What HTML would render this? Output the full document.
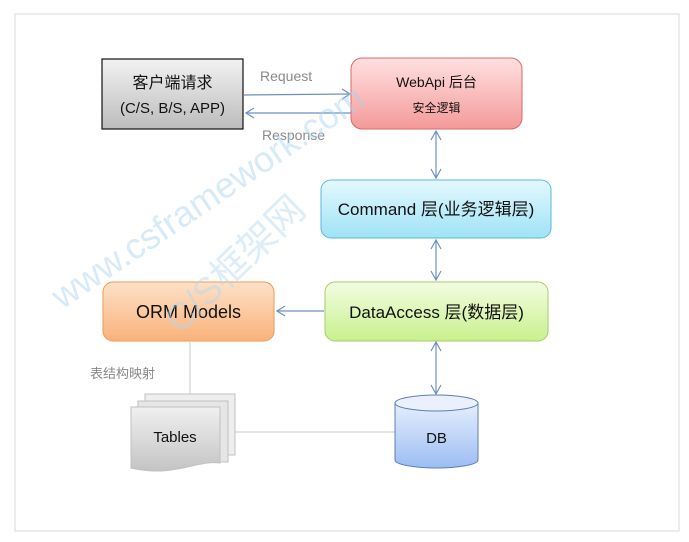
<!DOCTYPE html>
<html><head><meta charset="utf-8"><style>
html,body{margin:0;padding:0;background:#fff;}
svg{display:block;}
text{font-family:"Liberation Sans","Noto Sans CJK SC",sans-serif;}
</style></head><body>
<svg width="689" height="542" viewBox="0 0 689 542" xmlns="http://www.w3.org/2000/svg">
<defs>
<linearGradient id="gGray" x1="0" y1="0" x2="0" y2="1"><stop offset="0" stop-color="#f2f2f2"/><stop offset="1" stop-color="#bcbcbc"/></linearGradient>
<linearGradient id="gRed" x1="0" y1="0" x2="0" y2="1"><stop offset="0" stop-color="#ffe0e0"/><stop offset="1" stop-color="#f49a9a"/></linearGradient>
<linearGradient id="gCyan" x1="0" y1="0" x2="0" y2="1"><stop offset="0" stop-color="#e4f8fd"/><stop offset="1" stop-color="#9ee3f7"/></linearGradient>
<linearGradient id="gGreen" x1="0" y1="0" x2="0" y2="1"><stop offset="0" stop-color="#f3fde2"/><stop offset="1" stop-color="#c9f08d"/></linearGradient>
<linearGradient id="gOrange" x1="0" y1="0" x2="0" y2="1"><stop offset="0" stop-color="#fde1c8"/><stop offset="1" stop-color="#fab27a"/></linearGradient>
<linearGradient id="gBlue" x1="0" y1="0" x2="0" y2="1"><stop offset="0" stop-color="#e6eefc"/><stop offset="1" stop-color="#9cbdf3"/></linearGradient>
<linearGradient id="gTab" x1="0" y1="0" x2="0" y2="1"><stop offset="0" stop-color="#f0f0f0"/><stop offset="1" stop-color="#c4c4c4"/></linearGradient>
</defs>
<rect x="15" y="14" width="664" height="517" fill="#fff" stroke="#d9d9d9" stroke-width="1"/>

<g stroke="#6f8fc4" stroke-width="1.2" fill="none">
<line x1="244" y1="95" x2="350" y2="94"/><polyline points="342,89 350,94 342,99"/>
<line x1="352" y1="113" x2="246" y2="113"/><polyline points="254,108 246,113 254,118"/>
<line x1="436" y1="131" x2="436" y2="178"/>
<polyline points="431,140 436,131 441,140"/><polyline points="431,169 436,178 441,169"/>
<line x1="436" y1="240" x2="436" y2="280"/>
<polyline points="431,249 436,240 441,249"/><polyline points="431,271 436,280 441,271"/>
<line x1="436" y1="342" x2="436" y2="394"/>
<polyline points="431,351 436,342 441,351"/><polyline points="431,385 436,394 441,385"/>
<line x1="324" y1="311" x2="277" y2="311"/><polyline points="285,306 277,311 285,316"/>
</g>
<g stroke="#c8c8c8" stroke-width="1">
<line x1="190" y1="342" x2="190" y2="394"/>
<line x1="235" y1="432" x2="395" y2="432"/>
</g>

<rect x="102" y="59" width="141" height="70" fill="url(#gGray)" stroke="#111" stroke-width="1.2"/>
<text x="172.5" y="88" font-size="16" text-anchor="middle" fill="#111">客户端请求</text>
<text x="172.5" y="113" font-size="15" text-anchor="middle" fill="#111">(C/S, B/S, APP)</text>
<text x="260" y="81" font-size="14" fill="#8a8a8a">Request</text>
<text x="262" y="140" font-size="14" fill="#8a8a8a">Response</text>

<rect x="351" y="58" width="171" height="71" rx="11" fill="url(#gRed)" stroke="#d96a6a" stroke-width="1"/>
<text x="436.5" y="87" font-size="14" text-anchor="middle" fill="#111">WebApi 后台</text>
<text x="436.5" y="112" font-size="12" text-anchor="middle" fill="#111">安全逻辑</text>

<rect x="321" y="180" width="230" height="58" rx="10" fill="url(#gCyan)" stroke="#5ab9d8" stroke-width="1"/>
<text x="436" y="215" font-size="17" text-anchor="middle" fill="#111">Command 层(业务逻辑层)</text>

<rect x="325" y="282" width="223" height="59" rx="10" fill="url(#gGreen)" stroke="#a6cc6a" stroke-width="1"/>
<text x="436.5" y="318" font-size="17" text-anchor="middle" fill="#111">DataAccess 层(数据层)</text>

<rect x="103" y="282" width="171" height="59" rx="10" fill="url(#gOrange)" stroke="#ee9a55" stroke-width="1"/>
<text x="188.5" y="318" font-size="18" text-anchor="middle" fill="#111">ORM Models</text>
<text x="90" y="378" font-size="13" fill="#888">表结构映射</text>

<g stroke="#c0c0c0" stroke-width="1">
<rect x="145" y="394" width="90" height="61" fill="#eeeeee"/>
<rect x="138" y="401" width="90" height="61" fill="#e6e6e6"/>
<path d="M131,407 H220 V463 C195,460 175,478 131,468 Z" fill="url(#gTab)"/>
</g>
<text x="175" y="442" font-size="15" text-anchor="middle" fill="#111">Tables</text>

<path d="M395,403 V460 A41.5,8 0 0 0 478,460 V403" fill="url(#gBlue)" stroke="#5b7fb8" stroke-width="1"/>
<ellipse cx="436.5" cy="403" rx="41.5" ry="8" fill="#eaf1fd" stroke="#5b7fb8" stroke-width="1"/>
<text x="436.5" y="443" font-size="15" text-anchor="middle" fill="#111">DB</text>

<g opacity="0.45">
<text x="62" y="310" font-size="36" fill="#a8d2f0" transform="rotate(-34 62 310)">www.csframework.com</text>
<text x="180" y="335" font-size="38" fill="#b2d8f2" transform="rotate(-44 180 335)">C/S框架网</text>
</g>
</svg>
</body></html>
